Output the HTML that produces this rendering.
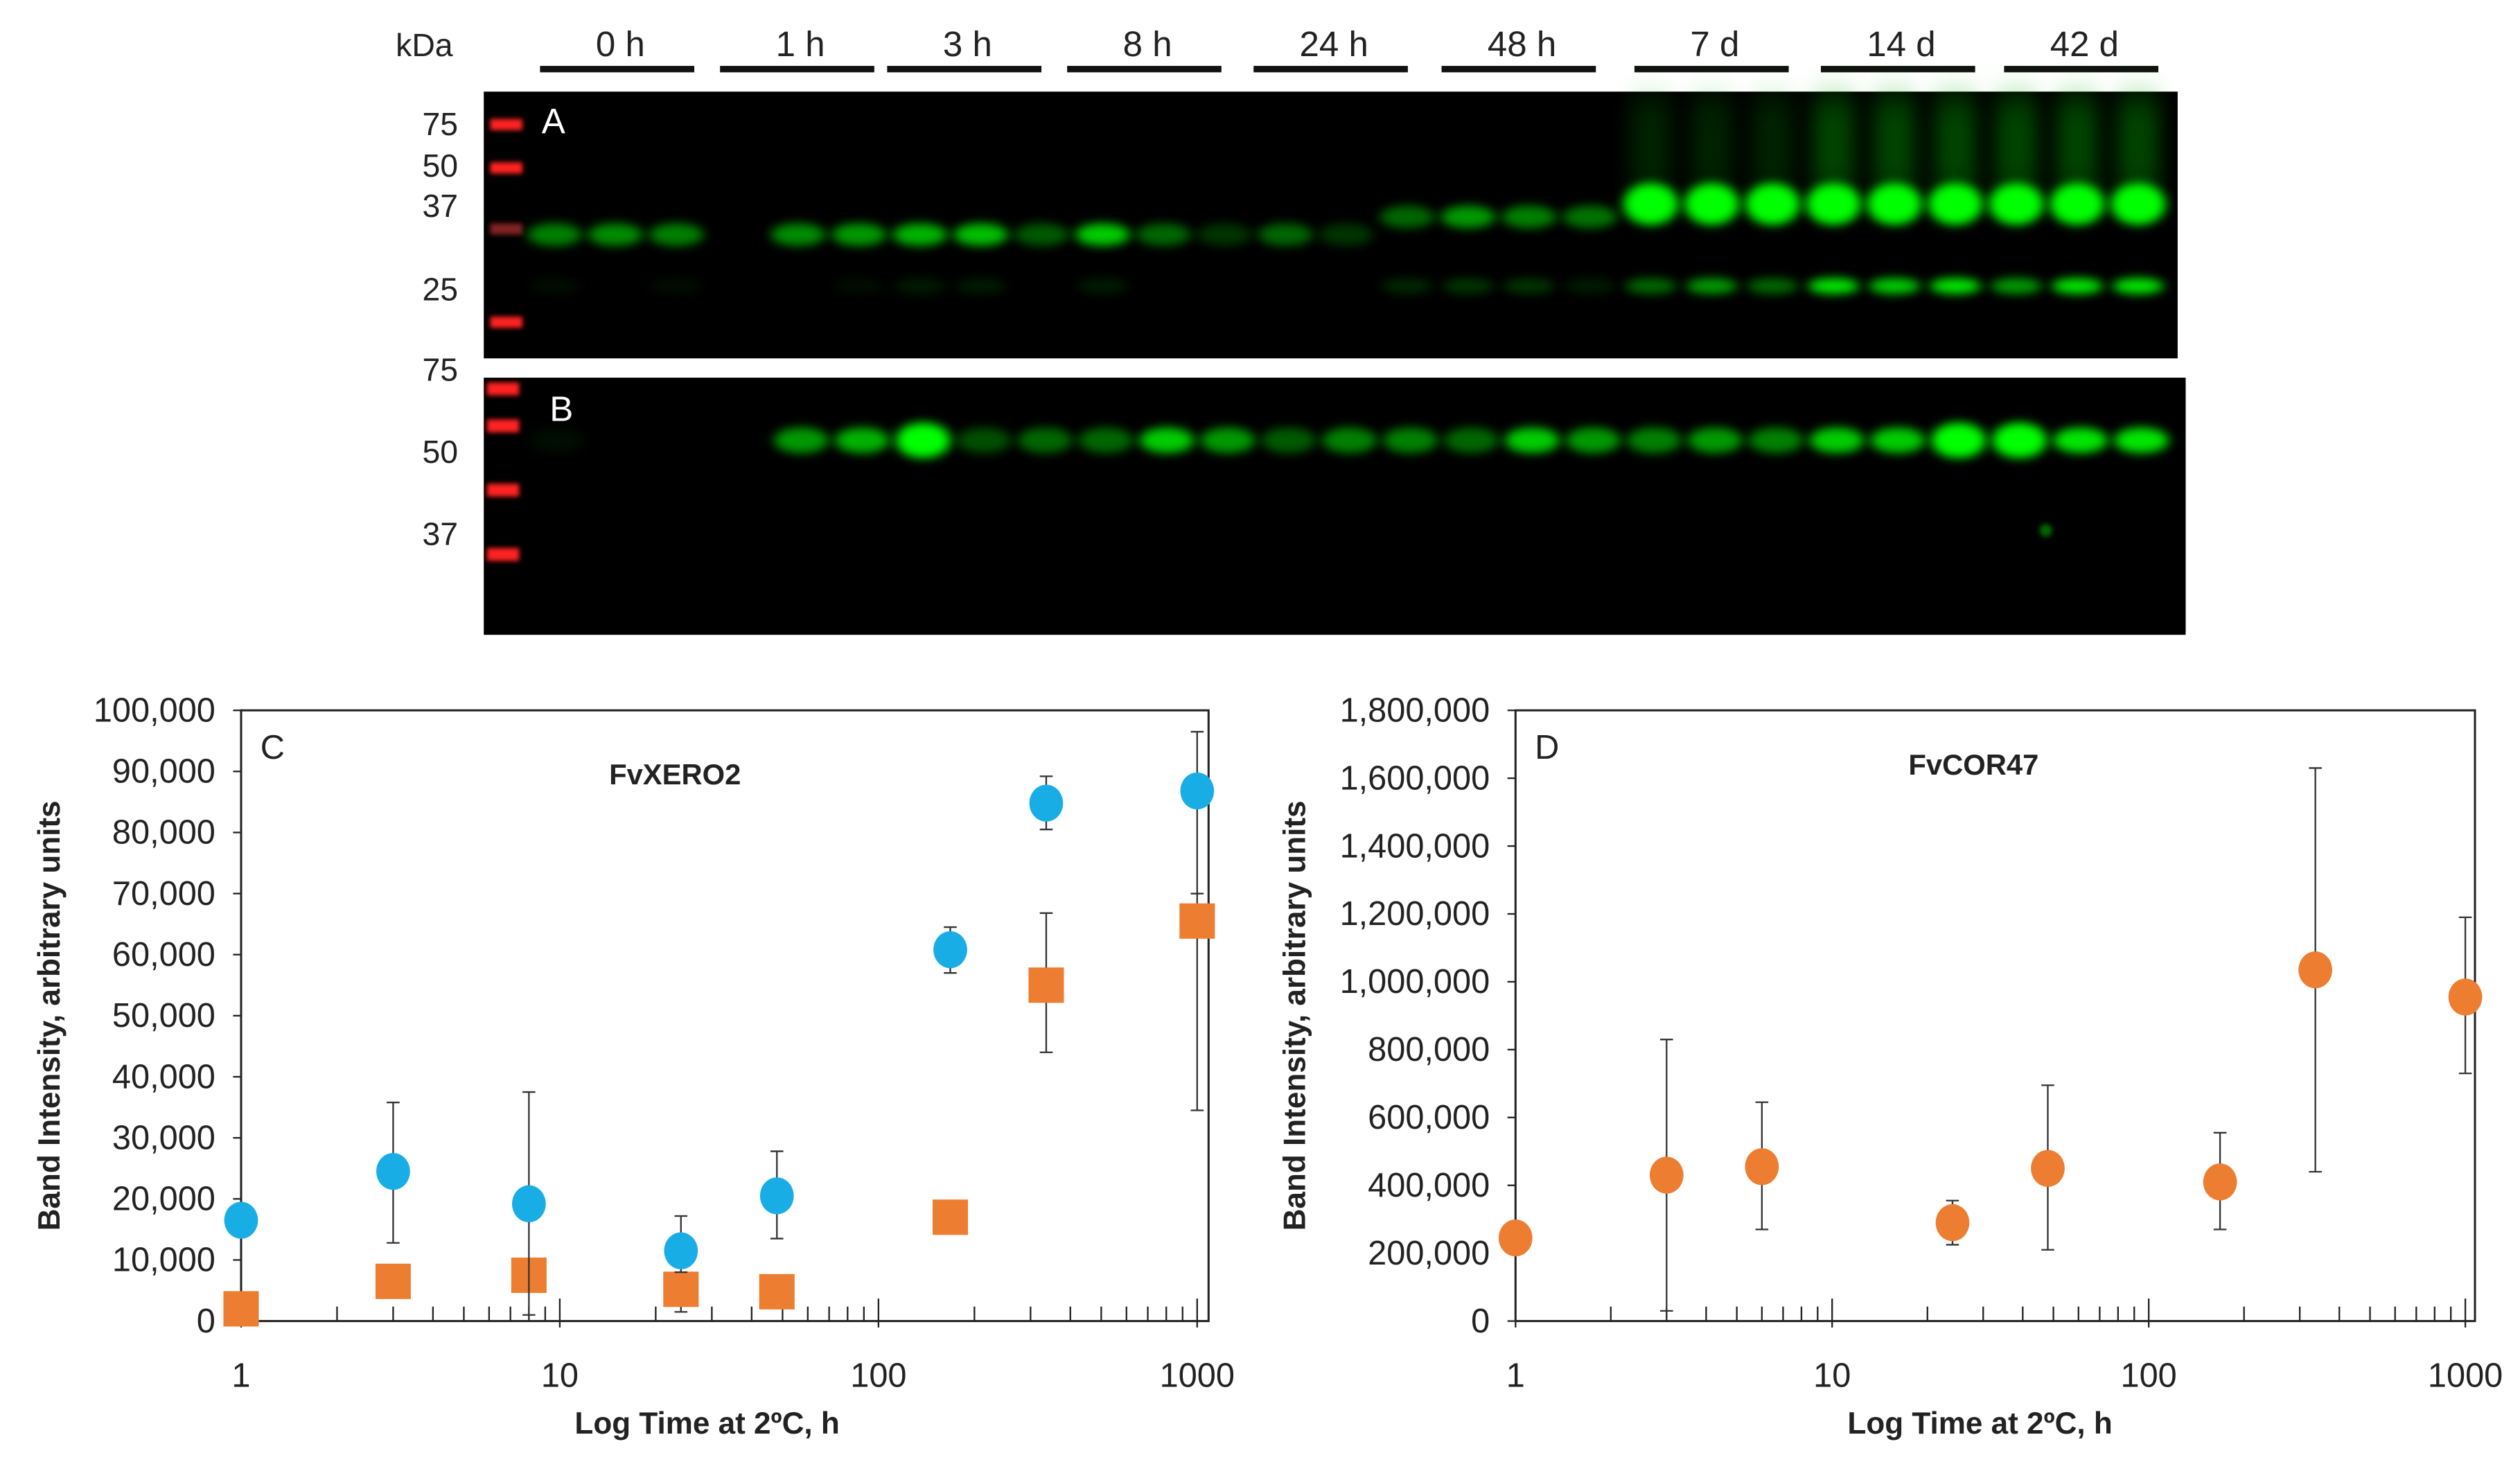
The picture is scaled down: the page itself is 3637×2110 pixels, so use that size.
<!DOCTYPE html>
<html><head><meta charset="utf-8">
<style>
html,body{margin:0;padding:0;background:#fff;}
svg{display:block;}
text{font-family:"Liberation Sans Narrow","Liberation Sans",sans-serif;fill:#222;}
.b{font-family:"Liberation Sans",sans-serif;font-weight:bold;}
</style></head>
<body>
<svg id="fig" width="3637" height="2110" viewBox="0 0 1568 909.7" xmlns="http://www.w3.org/2000/svg">
<defs>
<filter id="blur" x="-50%" y="-200%" width="200%" height="500%"><feGaussianBlur stdDeviation="3.5 3"/></filter>
<filter id="blurS" x="-50%" y="-100%" width="200%" height="300%"><feGaussianBlur stdDeviation="6 10"/></filter>
<filter id="blur2" x="-50%" y="-100%" width="200%" height="300%"><feGaussianBlur stdDeviation="1.5"/></filter>
</defs>
<g id="blots"></g>
<g id="chartC"></g>
<g id="chartD"></g>
</svg>
<script>
// ---------- Data ----------
const timeLabels = ["0 h","1 h","3 h","8 h","24 h","48 h","7 d","14 d","42 d"];
const laneAMain = [0.5,0.55,0.5,0,0.55,0.6,0.7,0.75,0.35,0.8,0.4,0.2,0.4,0.2,0.4,0.6,0.5,0.45,1,1,1,1,1,1,1,1,1];
const laneALower = [0.05,0,0.05,0,0,0.05,0.1,0.1,0,0.1,0,0,0,0,0.15,0.2,0.2,0.1,0.4,0.6,0.4,0.9,0.8,0.9,0.6,0.9,0.9];
const laneB = [0.05,0,0,0,0.6,0.7,1,0.3,0.4,0.4,0.8,0.6,0.35,0.5,0.5,0.4,0.8,0.6,0.5,0.6,0.5,0.8,0.8,1,1,0.9,0.9];
const mwA = ["75","50","37","25"];
const mwB = ["75","50","37"];

const timesC = [1,3,8,24,48,168,336,1000];
const xeroBlue = [16500,24500,19200,11500,20500,60800,84800,86800];
const xeroBlueLo = [16500,12800,1000,8000,13500,57000,80500,70000];
const xeroBlueHi = [16500,35800,37500,17200,27800,64500,89200,96500];
const xeroOrange = [2000,6500,7500,5200,4800,17000,55000,65500];
const xeroOrangeLo = [2000,6500,7500,1500,4800,17000,44000,34500];
const xeroOrangeHi = [2000,6500,7500,5200,4800,17000,66800,70000];
const yTicksC = [0,10000,20000,30000,40000,50000,60000,70000,80000,90000,100000];

const timesD = [1,3,6,24,48,168,336,1000];
const corVals = [245000,430000,455000,290000,450000,410000,1035000,955000];
const corLo = [245000,30000,270000,225000,210000,270000,440000,730000];
const corHi = [245000,830000,645000,355000,695000,555000,1630000,1190000];
const yTicksD = [0,200000,400000,600000,800000,1000000,1200000,1400000,1600000,1800000];
const xTickVals = [1,10,100,1000];

const NS="http://www.w3.org/2000/svg";
function mk(parent,tag,attrs,txt){const e=document.createElementNS(NS,tag);for(const k in attrs)e.setAttribute(k,attrs[k]);if(txt!==undefined)e.textContent=txt;parent.appendChild(e);return e;}
const fmt=v=>v.toLocaleString("en-US");

// ---------- Blots ----------
const bl=document.getElementById("blots");
let t=mk(bl,"text",{x:264,y:35,"font-size":20,"text-anchor":"middle"},"kDa");


const barStarts=[336,448,552,664,780,897,1017,1133,1247];
timeLabels.forEach((lab,i)=>{
  const x0=barStarts[i];
  let r=mk(bl,"rect",{x:x0,y:41,width:96,height:4,fill:"#111"});
  
  
  let tt=mk(bl,"text",{x:x0+50,y:35,"font-size":22,"text-anchor":"middle"},lab);
  
  
});
let pa=mk(bl,"rect",{x:301,y:57,width:1054,height:166,fill:"#000"});


let pb=mk(bl,"rect",{x:301,y:235,width:1059,height:160,fill:"#000"});


[77,104,142,200].forEach((y,i)=>{mk(bl,"rect",{x:305,y:y-3,width:20,height:7,fill:i==2?"#802020":"#ff2020",filter:"url(#blur2)"});});
[242,265,305,345].forEach(y=>{mk(bl,"rect",{x:303,y:y-4,width:20,height:8,fill:"#ff2020",filter:"url(#blur2)"});});
const mwAy=[84,110,135,187], mwBy=[237,288,339];
mwA.forEach((m,i)=>{let e=mk(bl,"text",{x:285,y:mwAy[i],"font-size":20,"text-anchor":"end"},m);});
mwB.forEach((m,i)=>{let e=mk(bl,"text",{x:285,y:mwBy[i],"font-size":20,"text-anchor":"end"},m);});
const laneX=i=>345+i*37.9;
laneAMain.forEach((v,i)=>{
  if(v<=0)return;
  const y=i>=18?127:(i>=14?135:146);
  if(i>=18){mk(bl,"rect",{x:laneX(i)-13,y:60,width:26,height:60,fill:"#00aa00",opacity:i>=21?0.4:0.2,filter:"url(#blurS)"});}
  const ry=i>=18?13:7;
  let b=mk(bl,"ellipse",{cx:laneX(i),cy:y,rx:17,ry:ry,fill:"#00ff00",opacity:v,filter:"url(#blur)"});
  
  
});
laneALower.forEach((v,i)=>{
  if(v<=0)return;
  let b=mk(bl,"ellipse",{cx:laneX(i),cy:178,rx:16,ry:5,fill:"#00ff00",opacity:v,filter:"url(#blur)"});
  
  
});
laneB.forEach((v,i)=>{
  if(v<=0)return;
  const ry=v>0.9?11:8;
  let b=mk(bl,"ellipse",{cx:laneX(i)+2,cy:274,rx:17,ry:ry,fill:"#00ff00",opacity:v,filter:"url(#blur)"});
  
  
});
mk(bl,"circle",{cx:1273,cy:330,r:4,fill:"#0a0",opacity:0.6,filter:"url(#blur2)"});
let la=mk(bl,"text",{x:337,y:83,"font-size":22,style:"fill:#fff"},"A");

let lb=mk(bl,"text",{x:342,y:262,"font-size":22,style:"fill:#fff"},"B");


// ---------- Scatter charts ----------
function chart(g,o){
  const L=o.L,R=o.R,T=442,B=822,x1=o.x1,dec=o.dec;
  const xs=v=>x1+Math.log10(v)*dec;
  const ys=v=>B-(v/o.ymax)*(B-T);
  let fr=mk(g,"rect",{x:L,y:T,width:R-L,height:B-T,fill:"none",stroke:"#222","stroke-width":1.3});
  
  o.yt.forEach(v=>{
    mk(g,"line",{x1:L-5,x2:L,y1:ys(v),y2:ys(v),stroke:"#222","stroke-width":1});
    let e=mk(g,"text",{x:L-16,y:ys(v)+7,"font-size":21,"text-anchor":"end"},fmt(v));
    
  });
  for(let d=0;d<4;d++){for(let k=2;k<=9;k++){const x=xs(k*Math.pow(10,d));if(x<R)mk(g,"line",{x1:x,x2:x,y1:B-9,y2:B,stroke:"#222","stroke-width":1});}}
  xTickVals.forEach(v=>{
    mk(g,"line",{x1:xs(v),x2:xs(v),y1:B-14,y2:B+4,stroke:"#222","stroke-width":1});
    let e=mk(g,"text",{x:xs(v),y:B+41,"font-size":21,"text-anchor":"middle"},String(v));
    
  });
  let xt=mk(g,"text",{x:o.xtx,y:892,"font-size":19,"text-anchor":"middle",class:"b"},"Log Time at 2ºC, h");
  
  let yt=mk(g,"text",{x:0,y:0,"font-size":19,"text-anchor":"middle",class:"b",transform:`translate(${o.ytx},632) rotate(-90)`},"Band Intensity, arbitrary units");
  
  let pl=mk(g,"text",{x:L+12,y:472,"font-size":21},o.letter);
  
  let ti=mk(g,"text",{x:o.tx,y:o.ty,"font-size":18,"text-anchor":"middle",class:"b"},o.title);
  
  o.series.forEach(s=>{
    s.x.forEach((tv,i)=>{
      const x=xs(tv);
      if(s.hi[i]!==s.lo[i]){
        let eb=mk(g,"line",{x1:x,x2:x,y1:ys(s.hi[i]),y2:ys(s.lo[i]),stroke:"#333","stroke-width":1});
        
        mk(g,"line",{x1:x-4,x2:x+4,y1:ys(s.hi[i]),y2:ys(s.hi[i]),stroke:"#333","stroke-width":1});
        mk(g,"line",{x1:x-4,x2:x+4,y1:ys(s.lo[i]),y2:ys(s.lo[i]),stroke:"#333","stroke-width":1});
      }
      let m;
      if(s.shape==="sq") m=mk(g,"rect",{x:x-11,y:ys(s.v[i])-11,width:22,height:22,fill:s.color});
      else m=mk(g,"ellipse",{cx:x,cy:ys(s.v[i]),rx:10.5,ry:11.5,fill:s.color});
      
    });
  });
}
chart(document.getElementById("chartC"),{L:150,R:752,x1:150,dec:198.3,ymax:100000,yt:yTicksC,xtx:440,ytx:37,letter:"C",title:"FvXERO2",tx:420,ty:488,
  series:[
    {x:timesC,v:xeroOrange,lo:xeroOrangeLo,hi:xeroOrangeHi,color:"#ED7D31",shape:"sq",name:"orange-square-point"},
    {x:timesC,v:xeroBlue,lo:xeroBlueLo,hi:xeroBlueHi,color:"#19ADE6",shape:"c",name:"blue-circle-point"}
  ]});
chart(document.getElementById("chartD"),{L:943,R:1540,x1:943,dec:197,ymax:1800000,yt:yTicksD,xtx:1232,ytx:812,letter:"D",title:"FvCOR47",tx:1228,ty:482,
  series:[
    {x:timesD,v:corVals,lo:corLo,hi:corHi,color:"#ED7D31",shape:"c",name:"orange-circle-point"}
  ]});
</script>
</body></html>
